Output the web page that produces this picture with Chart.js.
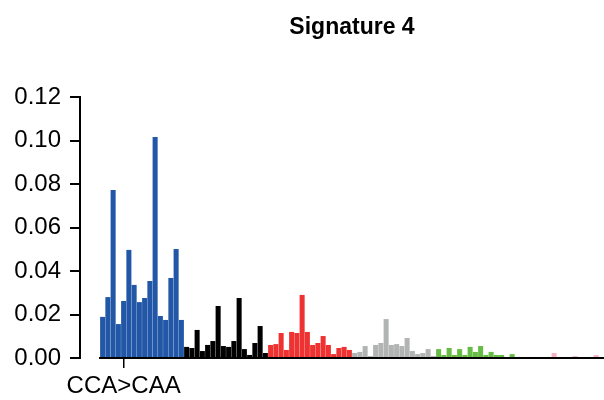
<!DOCTYPE html>
<html>
<head>
<meta charset="utf-8">
<script src="https://cdn.jsdelivr.net/npm/chart.js@4/dist/chart.umd.min.js"></script>
<style>
  html, body { margin: 0; padding: 0; background: #ffffff; }
  #wrap { width: 604px; height: 400px; }
</style>
</head>
<body>
<div id="wrap"><canvas id="c" width="604" height="400"></canvas></div>
<script>
// ---- data ----
const title = "Signature 4";
const mutationTypes = ["C>A", "C>G", "C>T", "T>A", "T>C", "T>G"];
const bases = ["A", "C", "G", "T"];
const typeColors = ["#2157a6", "#000000", "#ee3232", "#b2b4b4", "#66bb44", "#f4b4c4"];

const valuesCA = [0.0189, 0.0280, 0.0772, 0.0156, 0.0262, 0.0497, 0.0336, 0.0257, 0.0276, 0.0354, 0.1016, 0.0193, 0.0175, 0.0368, 0.0501, 0.0175];
const valuesCG = [0.0051, 0.0046, 0.0129, 0.0032, 0.0060, 0.0078, 0.0239, 0.0055, 0.0051, 0.0078, 0.0276, 0.0041, 0.0014, 0.0069, 0.0147, 0.0023];
const valuesCT = [0.0060, 0.0064, 0.0115, 0.0037, 0.0120, 0.0115, 0.0290, 0.0120, 0.0060, 0.0069, 0.0101, 0.0060, 0.0018, 0.0046, 0.0051, 0.0037];
const valuesTA = [0.0023, 0.0028, 0.0055, 0.0009, 0.0060, 0.0069, 0.0179, 0.0060, 0.0064, 0.0055, 0.0092, 0.0032, 0.0018, 0.0023, 0.0041, 0.0009];
const valuesTC = [0.0041, 0.0014, 0.0046, 0.0014, 0.0041, 0.0014, 0.0051, 0.0028, 0.0055, 0.0014, 0.0028, 0.0014, 0.0014, 0.0005, 0.0018, 0.0005];
const valuesTG = [0.0000, 0.0000, 0.0005, 0.0000, 0.0000, 0.0005, 0.0023, 0.0005, 0.0000, 0.0000, 0.0009, 0.0000, 0.0000, 0.0000, 0.0014, 0.0000];

const yTicks = [0, 0.02, 0.04, 0.06, 0.08, 0.10, 0.12];
const shownXTicks = [4]; // only "CCA>CAA" is labelled

// ---- derived tables ----
const seriesByType = [valuesCA, valuesCG, valuesCT, valuesTA, valuesTC, valuesTG];
const categories = [];
const values = [];
const colors = [];
mutationTypes.forEach((mt, t) => {
  const ref = mt[0], alt = mt[2];
  let k = 0;
  bases.forEach(b5 => {
    bases.forEach(b3 => {
      categories.push(b5 + ref + b3 + ">" + b5 + alt + b3);
      values.push(seriesByType[t][k]);
      colors.push(typeColors[t]);
      k++;
    });
  });
});
const points = values.map((v, i) => ({ x: i, y: v }));

const FONT = "'Liberation Sans', Arial, Helvetica, sans-serif";

const layoutPlugin = {
  id: 'sigLayout',
  afterLayout(chart) {
    const xs = chart.scales.x;
    const tb = chart.titleBlock;
    if (tb && xs) {
      tb.left = xs.getPixelForValue(-0.5);
      tb.right = xs.getPixelForValue(categories.length - 0.5);
    }
  },
  afterDatasetsDraw(chart) {
    const xs = chart.scales.x, ys = chart.scales.y;
    const ctx = chart.ctx;
    const y0 = ys.getPixelForValue(0);
    ctx.save();
    ctx.strokeStyle = '#000000';
    ctx.lineWidth = 2;
    ctx.beginPath();
    ctx.moveTo(xs.getPixelForValue(-0.5) - 1, y0);
    ctx.lineTo(xs.getPixelForValue(categories.length - 0.5) + 1, y0);
    ctx.stroke();
    ctx.restore();
  }
};

new Chart(document.getElementById('c'), {
  type: 'bar',
  data: {
    datasets: [{
      data: points,
      backgroundColor: colors,
      borderWidth: 0,
      barPercentage: 0.96,
      categoryPercentage: 1.0
    }]
  },
  options: {
    responsive: false,
    animation: false,
    devicePixelRatio: 1,
    layout: { padding: { left: 0, right: 0, top: 0, bottom: 0 } },
    plugins: {
      legend: { display: false },
      tooltip: { enabled: false },
      title: {
        display: true,
        text: title,
        color: '#000000',
        font: { family: FONT, size: 23, weight: 'bold', lineHeight: 1.2 },
        padding: { top: 14, bottom: 55.4 }
      }
    },
    scales: {
      x: {
        type: 'linear',
        offset: false,
        min: -4.31,
        max: 95.5,
        afterFit(scale) {
          scale.height = 42;
          scale.paddingLeft = 0;
          scale.paddingRight = 0;
        },
        afterBuildTicks(scale) { scale.ticks = shownXTicks.map(v => ({ value: v })); },
        border: { display: false },
        grid: {
          display: true,
          offset: false,
          drawOnChartArea: false,
          drawTicks: true,
          tickLength: 10,
          color: '#000000',
          lineWidth: 1.5
        },
        ticks: {
          autoSkip: false,
          maxRotation: 0,
          padding: 4,
          color: '#000000',
          font: { family: FONT, size: 24 },
          callback: (v) => categories[v]
        }
      },
      y: {
        min: 0,
        max: 0.12,
        afterFit(scale) {
          scale.width = 80;
          scale.paddingTop = 0;
          scale.paddingBottom = 0;
        },
        afterBuildTicks(scale) { scale.ticks = yTicks.map(v => ({ value: v })); },
        border: { display: true, color: '#000000', width: 2 },
        grid: {
          display: true,
          drawOnChartArea: false,
          drawTicks: true,
          tickLength: 10,
          color: '#000000',
          lineWidth: 2
        },
        ticks: {
          padding: 9,
          color: '#000000',
          font: { family: FONT, size: 24 },
          callback: (v) => v.toFixed(2)
        }
      }
    }
  },
  plugins: [layoutPlugin]
});
</script>
</body>
</html>
